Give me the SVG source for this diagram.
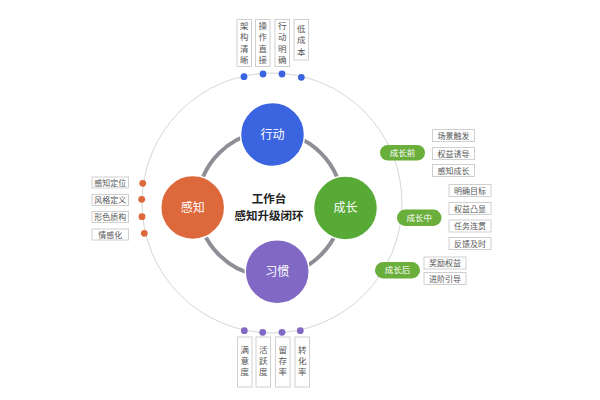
<svg xmlns="http://www.w3.org/2000/svg" width="600" height="400" viewBox="0 0 600 400">
<style>
text{font-family:"Noto Sans CJK SC","Noto Sans",sans-serif}
.box{fill:#fff;stroke:#cfcfcf;stroke-width:1}
.lbl{font-size:8px;fill:#555;text-anchor:middle}
.vl{font-size:8.5px;fill:#555;text-anchor:middle}
.pill{fill:#6aae3c}
.pt{font-size:8.5px;fill:#fff;text-anchor:middle}
.ct{font-size:12px;fill:#fff;text-anchor:middle}
.main{stroke:#fff;stroke-width:1.5}
.cen{font-size:11.5px;font-weight:bold;fill:#222;text-anchor:middle}
</style>
<rect width="600" height="400" fill="#fff"/>
<g id="connectors">
<circle cx="272" cy="203" r="130" fill="none" stroke="#d6d6d6" stroke-width="1"/>
<circle cx="270" cy="204" r="72" fill="none" stroke="#8e8f96" stroke-width="4"/>
</g>
<g id="center">
<text class="cen" x="269" y="203.3">工作台</text>
<text class="cen" x="269" y="220.2">感知升级闭环</text>
</g>
<g id="node-xingdong">
<circle class="main" cx="272.5" cy="134.5" r="32" fill="#3a64e0"/>
<text class="ct" x="272.5" y="138.5">行动</text>
</g>
<g id="node-chengzhang">
<circle class="main" cx="345.5" cy="208" r="32" fill="#57aa35"/>
<text class="ct" x="345.5" y="212">成长</text>
</g>
<g id="node-ganzhi">
<circle class="main" cx="192.7" cy="207.5" r="32" fill="#dd683b"/>
<text class="ct" x="192.7" y="211.5">感知</text>
</g>
<g id="node-xiguan">
<circle class="main" cx="277.2" cy="271.7" r="32" fill="#8068c4"/>
<text class="ct" x="277.2" y="275.7">习惯</text>
</g>
<g id="top-items">
<circle cx="244" cy="76.7" r="3.4" fill="#3a64e0"/>
<circle cx="263" cy="74" r="3.4" fill="#3a64e0"/>
<circle cx="282" cy="74" r="3.4" fill="#3a64e0"/>
<circle cx="301.3" cy="77.3" r="3.4" fill="#3a64e0"/>
<rect class="box" x="237" y="19.5" width="14.5" height="47"/>
<text class="vl" x="244.2" y="28.5">架<tspan x="244.2" dy="11.5">构</tspan><tspan x="244.2" dy="11.5">清</tspan><tspan x="244.2" dy="11.5">晰</tspan></text>
<rect class="box" x="255.5" y="19.5" width="14.5" height="47"/>
<text class="vl" x="262.7" y="28.5">操<tspan x="262.7" dy="11.5">作</tspan><tspan x="262.7" dy="11.5">直</tspan><tspan x="262.7" dy="11.5">接</tspan></text>
<rect class="box" x="275" y="19.5" width="14.5" height="47"/>
<text class="vl" x="282.2" y="28.5">行<tspan x="282.2" dy="11.5">动</tspan><tspan x="282.2" dy="11.5">明</tspan><tspan x="282.2" dy="11.5">确</tspan></text>
<rect class="box" x="294" y="19.5" width="14.5" height="40.5"/>
<text class="vl" x="301.2" y="31.5">低<tspan x="301.2" dy="11.5">成</tspan><tspan x="301.2" dy="11.5">本</tspan></text>
</g>
<g id="bottom-items">
<circle cx="244.3" cy="330.7" r="3.4" fill="#8068c4"/>
<circle cx="262.7" cy="332.3" r="3.4" fill="#8068c4"/>
<circle cx="282" cy="332.3" r="3.4" fill="#8068c4"/>
<circle cx="300.3" cy="330.7" r="3.4" fill="#8068c4"/>
<rect class="box" x="237.5" y="337" width="14.5" height="50"/>
<text class="vl" x="244.7" y="353">满<tspan x="244.7" dy="11">意</tspan><tspan x="244.7" dy="11">度</tspan></text>
<rect class="box" x="256" y="337" width="14.5" height="50"/>
<text class="vl" x="263.2" y="353">活<tspan x="263.2" dy="11">跃</tspan><tspan x="263.2" dy="11">度</tspan></text>
<rect class="box" x="275.5" y="337" width="14.5" height="50"/>
<text class="vl" x="282.7" y="353">留<tspan x="282.7" dy="11">存</tspan><tspan x="282.7" dy="11">率</tspan></text>
<rect class="box" x="295" y="337" width="14.5" height="50"/>
<text class="vl" x="302.2" y="353">转<tspan x="302.2" dy="11">化</tspan><tspan x="302.2" dy="11">率</tspan></text>
</g>
<g id="left-items">
<circle cx="142.7" cy="183.3" r="3.4" fill="#dd683b"/>
<circle cx="141.7" cy="199.3" r="3.4" fill="#dd683b"/>
<circle cx="142" cy="216.7" r="3.4" fill="#dd683b"/>
<circle cx="144.3" cy="233.3" r="3.4" fill="#dd683b"/>
<rect class="box" x="92" y="177" width="36.5" height="11"/>
<text class="lbl" x="110.2" y="185.5">感知定位</text>
<rect class="box" x="92" y="194.5" width="36.5" height="11"/>
<text class="lbl" x="110.2" y="203">风格定义</text>
<rect class="box" x="92" y="211.5" width="36.5" height="11"/>
<text class="lbl" x="110.2" y="220">形色质构</text>
<rect class="box" x="92" y="229" width="36.5" height="11"/>
<text class="lbl" x="110.2" y="237.5">情感化</text>
</g>
<g id="right-before">
<rect class="pill" x="380" y="145" width="45" height="15.5" rx="7.75"/>
<text class="pt" x="402.5" y="155.8">成长前</text>
<rect class="box" x="432.5" y="129.5" width="42" height="12"/>
<text class="lbl" x="453.5" y="138.5">场景触发</text>
<rect class="box" x="432.5" y="147.5" width="42" height="12"/>
<text class="lbl" x="453.5" y="156.5">权益诱导</text>
<rect class="box" x="432.5" y="164.5" width="42" height="12"/>
<text class="lbl" x="453.5" y="173.5">感知成长</text>
</g>
<g id="right-during">
<rect class="pill" x="397" y="209.5" width="44.5" height="16.5" rx="8.25"/>
<text class="pt" x="419.2" y="220.8">成长中</text>
<rect class="box" x="449" y="184.5" width="42" height="12"/>
<text class="lbl" x="470" y="193.5">明确目标</text>
<rect class="box" x="449" y="202.5" width="42" height="12"/>
<text class="lbl" x="470" y="211.5">权益凸显</text>
<rect class="box" x="449" y="220" width="42" height="12"/>
<text class="lbl" x="470" y="229">任务连贯</text>
<rect class="box" x="449" y="237.5" width="42" height="12"/>
<text class="lbl" x="470" y="246.5">反馈及时</text>
</g>
<g id="right-after">
<rect class="pill" x="375" y="262" width="45" height="16.5" rx="8.25"/>
<text class="pt" x="397.5" y="273.3">成长后</text>
<rect class="box" x="424" y="257" width="42" height="12"/>
<text class="lbl" x="445" y="266">奖励权益</text>
<rect class="box" x="424" y="272.5" width="42" height="12"/>
<text class="lbl" x="445" y="281.5">进阶引导</text>
</g>
</svg>
